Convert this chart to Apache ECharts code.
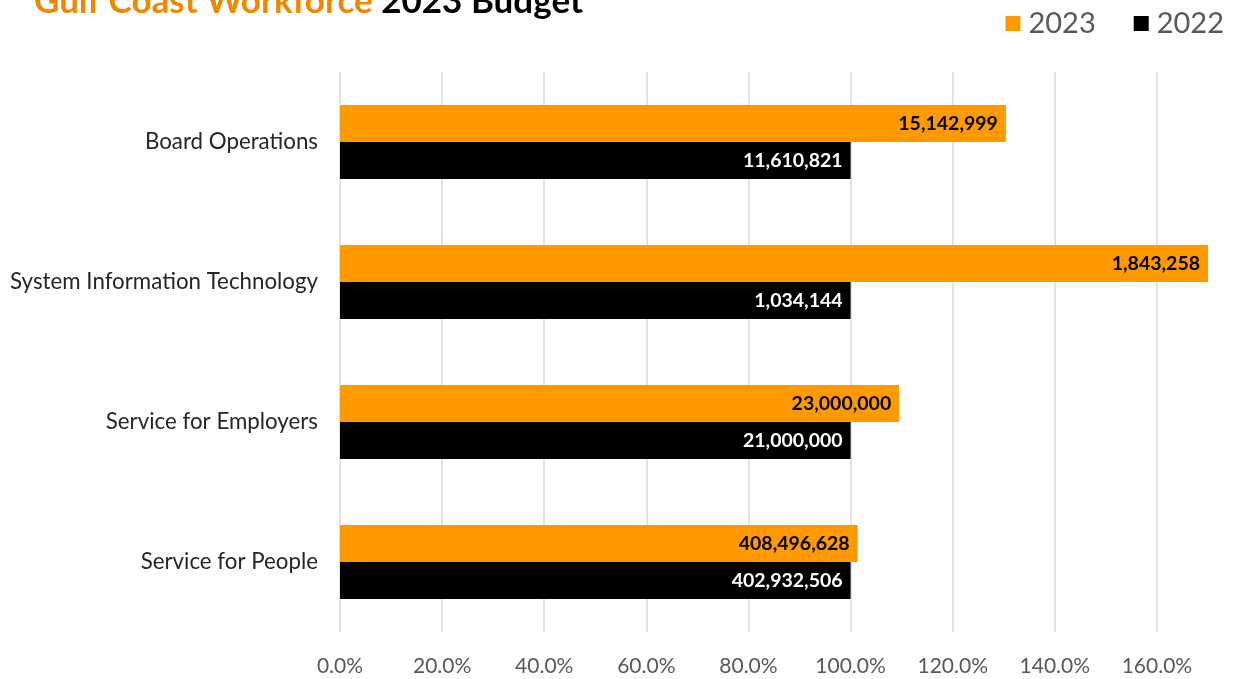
<!DOCTYPE html>
<html>
<head>
<meta charset="utf-8">
<script src="https://cdn.jsdelivr.net/npm/echarts@6/dist/echarts.min.js"></script>
<style>
  html, body { margin: 0; padding: 0; background: #ffffff; }
  #chart { width: 1234px; height: 679px; }
</style>
</head>
<body>
<div id="chart"></div>
<script>
// Budget lines, top to bottom
const categories = [
  'Board Operations',
  'System Information Technology',
  'Service for Employers',
  'Service for People'
];
// Budget amounts in dollars
const budget2023 = [15142999, 1843258, 23000000, 408496628];
const budget2022 = [11610821, 1034144, 21000000, 402932506];
// Axis ticks (share of the 2022 budget)
const axisMax = 1.7;
const axisStep = 0.2;

const ORANGE = '#FF9900';
const BLACK = '#000000';

// Each bar is drawn as a share of that line's 2022 budget; the label shows the dollar amount
const share2023 = budget2023.map((v, i) => ({ value: v / budget2022[i], amount: v }));
const share2022 = budget2022.map((v, i) => ({ value: v / budget2022[i], amount: v }));

const fmtAmount = p => p.data.amount.toLocaleString('en-US');

const chart = echarts.init(document.getElementById('chart'));
chart.setOption({
  animation: false,
  backgroundColor: '#ffffff',
  title: {
    text: '{a|Gulf Coast Workforce} {b|2023 Budget}',
    left: 34,
    top: -17,
    padding: 0,
    textStyle: {
      fontSize: 35,
      fontFamily: 'Lato',
      fontWeight: 'bold',
      rich: {
        a: { color: '#EF8700', fontFamily: 'Lato', fontWeight: 'bold', fontSize: 35, lineHeight: 38 },
        b: { color: '#000000', fontFamily: 'Lato', fontWeight: 'bold', fontSize: 35, lineHeight: 38 }
      }
    }
  },
  legend: {
    right: 10,
    top: 9,
    padding: 0,
    icon: 'rect',
    itemWidth: 15,
    itemHeight: 15,
    itemGap: 38,
    textStyle: { color: '#595959', fontFamily: 'Lato', fontSize: 29, padding: [0, 0, 0, 3] },
    data: ['2023', '2022']
  },
  grid: { left: 340, right: 26, top: 72, bottom: 47, containLabel: false },
  xAxis: {
    type: 'value',
    min: 0,
    max: axisMax,
    interval: axisStep,
    axisLine: { show: false },
    axisTick: { show: false },
    axisLabel: {
      color: '#595959',
      fontFamily: 'Lato',
      fontSize: 21,
      margin: 24,
      showMaxLabel: false,
      formatter: v => (v * 100).toFixed(1) + '%'
    },
    splitLine: { show: true, showMaxLine: false, lineStyle: { color: '#D9D9D9', width: 1.5 } }
  },
  yAxis: {
    type: 'category',
    inverse: true,
    data: categories,
    axisLine: { show: false },
    axisTick: { show: false },
    axisLabel: { color: '#262626', fontFamily: 'Lato', fontSize: 22.3, margin: 22 }
  },
  series: [
    {
      name: '2023',
      type: 'bar',
      data: share2023,
      barWidth: 37,
      barGap: '0%',
      clip: true,
      itemStyle: { color: ORANGE },
      label: {
        show: true,
        position: 'insideRight',
        distance: 8,
        color: '#000000',
        fontFamily: 'Lato',
        fontWeight: 'bold',
        fontSize: 19.5,
        formatter: fmtAmount
      }
    },
    {
      name: '2022',
      type: 'bar',
      data: share2022,
      barWidth: 37,
      barGap: '0%',
      clip: true,
      itemStyle: { color: BLACK },
      label: {
        show: true,
        position: 'insideRight',
        distance: 8,
        color: '#ffffff',
        fontFamily: 'Lato',
        fontWeight: 'bold',
        fontSize: 19.5,
        formatter: fmtAmount
      }
    }
  ]
});
</script>
</body>
</html>
